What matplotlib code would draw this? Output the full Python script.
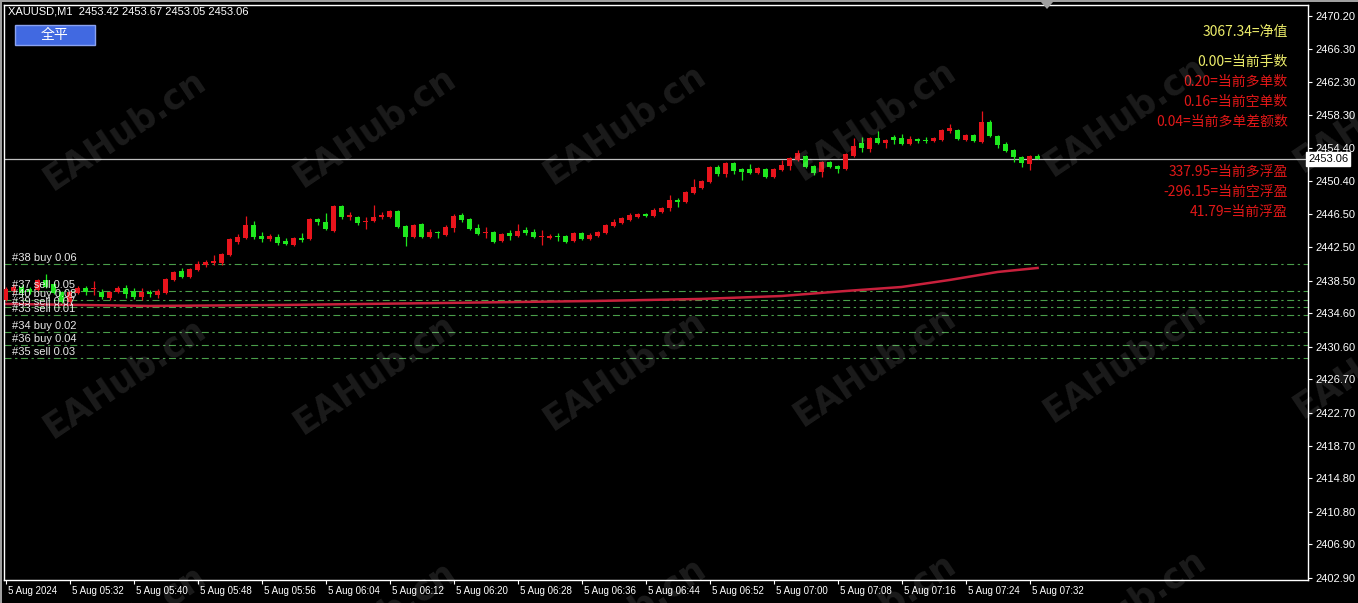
import matplotlib
matplotlib.use("Agg")
import matplotlib.pyplot as plt
import matplotlib.transforms as mtransforms
from matplotlib.patches import Rectangle, Polygon
import numpy as np

# ---------------- data ----------------
opens = [2436.19, 2437.26, 2437.74, 2437.50, 2437.38, 2438.58, 2438.10, 2437.14, 2435.95, 2437.02,
         2437.62, 2437.50, 2437.14, 2436.42, 2437.14, 2437.62, 2437.26, 2436.54, 2437.14, 2436.78,
         2437.02, 2438.58, 2439.66, 2438.95, 2439.78, 2440.38, 2440.62, 2440.62, 2441.58, 2443.14,
         2443.62, 2445.17, 2443.86, 2443.50, 2443.74, 2443.26, 2442.78, 2443.62, 2443.50, 2445.89,
         2445.53, 2444.46, 2447.45, 2446.13, 2446.13, 2445.53, 2445.65, 2446.13, 2446.13, 2446.85,
         2445.05, 2443.74, 2445.29, 2443.74, 2444.34, 2443.98, 2444.81, 2446.37, 2445.89, 2444.81,
         2444.22, 2444.34, 2443.26, 2444.22, 2443.86, 2444.57, 2444.34, 2443.74, 2443.62, 2443.86,
         2443.86, 2443.26, 2444.22, 2443.50, 2443.86, 2444.22, 2445.05, 2445.41, 2445.77, 2446.13,
         2446.49, 2446.25, 2446.73, 2447.21, 2448.17, 2447.93, 2449.01, 2449.60, 2450.32, 2452.12,
         2451.28, 2452.60, 2451.88, 2451.88, 2451.40, 2451.88, 2450.92, 2451.76, 2452.24, 2452.96,
         2453.44, 2452.24, 2451.52, 2452.72, 2452.24, 2451.88, 2453.44, 2454.99, 2454.28, 2455.59,
         2454.99, 2455.71, 2455.59, 2454.87, 2455.47, 2455.35, 2455.23, 2455.35, 2456.43, 2456.55,
         2455.35, 2455.95, 2455.11, 2457.50, 2455.83, 2454.87, 2454.16, 2453.32, 2452.48, 2453.42]
highs = [2437.74, 2438.10, 2437.98, 2437.74, 2438.71, 2439.31, 2438.34, 2437.26, 2437.26, 2437.86,
         2437.86, 2438.46, 2437.50, 2437.26, 2437.86, 2437.98, 2437.62, 2437.62, 2437.38, 2437.50,
         2438.83, 2439.66, 2440.02, 2440.02, 2440.86, 2440.98, 2441.58, 2441.82, 2443.62, 2444.10,
         2446.25, 2445.65, 2444.34, 2444.10, 2444.10, 2443.62, 2443.74, 2444.22, 2446.01, 2446.01,
         2446.61, 2447.57, 2447.57, 2446.73, 2446.25, 2446.13, 2447.57, 2446.73, 2446.97, 2446.97,
         2445.17, 2445.29, 2445.41, 2444.69, 2444.46, 2445.17, 2446.49, 2446.61, 2446.01, 2445.29,
         2444.93, 2444.46, 2444.22, 2444.57, 2445.29, 2444.93, 2444.69, 2444.57, 2444.10, 2444.22,
         2443.98, 2444.34, 2444.34, 2444.22, 2444.46, 2445.29, 2445.89, 2446.13, 2446.61, 2446.61,
         2446.61, 2447.21, 2447.33, 2448.77, 2448.41, 2449.24, 2450.68, 2450.56, 2452.24, 2452.36,
         2452.72, 2452.72, 2452.00, 2452.48, 2452.12, 2452.00, 2452.00, 2452.96, 2453.32, 2454.16,
         2453.56, 2452.36, 2452.84, 2452.84, 2452.36, 2453.80, 2455.59, 2455.71, 2455.71, 2456.43,
         2455.47, 2455.95, 2456.07, 2455.83, 2455.59, 2455.71, 2455.71, 2456.67, 2457.27, 2456.67,
         2456.07, 2456.07, 2458.82, 2457.74, 2455.95, 2455.11, 2454.28, 2453.44, 2453.56, 2453.67]
lows = [2436.07, 2437.02, 2436.66, 2436.90, 2437.26, 2437.62, 2436.90, 2435.83, 2435.83, 2436.90,
        2436.78, 2436.78, 2436.31, 2436.19, 2437.02, 2436.42, 2436.31, 2436.19, 2436.54, 2436.42,
        2436.90, 2438.46, 2438.83, 2438.83, 2439.66, 2440.14, 2440.38, 2440.38, 2441.46, 2442.90,
        2443.50, 2443.50, 2443.14, 2443.26, 2442.78, 2442.78, 2442.66, 2443.14, 2443.38, 2445.17,
        2444.57, 2444.34, 2445.89, 2445.77, 2445.17, 2444.69, 2445.53, 2445.89, 2446.01, 2444.81,
        2442.66, 2443.62, 2443.62, 2443.62, 2443.62, 2443.86, 2444.34, 2445.53, 2444.57, 2443.98,
        2443.62, 2443.02, 2443.14, 2443.38, 2443.74, 2443.98, 2443.62, 2442.78, 2443.50, 2443.26,
        2443.02, 2443.14, 2443.38, 2443.38, 2443.74, 2444.10, 2444.93, 2445.29, 2445.65, 2446.01,
        2446.13, 2446.13, 2446.61, 2446.85, 2447.33, 2447.81, 2448.88, 2449.48, 2450.20, 2451.04,
        2450.92, 2451.28, 2450.56, 2451.28, 2451.28, 2450.80, 2450.80, 2451.64, 2451.76, 2452.84,
        2452.00, 2451.16, 2450.92, 2452.00, 2451.40, 2451.76, 2453.32, 2453.92, 2453.92, 2454.87,
        2454.40, 2454.87, 2454.75, 2454.75, 2454.99, 2454.99, 2455.11, 2455.23, 2456.19, 2455.35,
        2455.23, 2455.11, 2454.99, 2455.71, 2454.40, 2453.92, 2452.72, 2452.12, 2451.76, 2453.05]
closes = [2437.50, 2437.74, 2437.02, 2437.14, 2438.58, 2437.74, 2437.02, 2435.95, 2437.14, 2437.62,
          2437.14, 2437.62, 2436.54, 2437.14, 2437.62, 2436.90, 2436.54, 2437.14, 2436.90, 2437.26,
          2438.71, 2439.54, 2438.95, 2439.90, 2440.50, 2440.74, 2440.86, 2441.70, 2443.50, 2443.74,
          2445.17, 2443.74, 2443.50, 2443.86, 2443.02, 2442.90, 2443.62, 2443.38, 2445.89, 2445.53,
          2444.69, 2447.45, 2446.13, 2446.37, 2445.41, 2445.65, 2446.13, 2446.37, 2446.85, 2444.93,
          2443.74, 2445.17, 2443.74, 2444.34, 2444.22, 2444.93, 2446.25, 2445.77, 2444.69, 2444.10,
          2444.34, 2443.14, 2444.10, 2443.86, 2444.46, 2444.22, 2443.74, 2443.86, 2443.86, 2443.74,
          2443.14, 2444.22, 2443.50, 2443.98, 2444.34, 2445.17, 2445.53, 2446.01, 2446.37, 2446.49,
          2446.25, 2446.97, 2447.21, 2448.17, 2447.93, 2449.12, 2449.72, 2450.44, 2452.12, 2451.28,
          2452.60, 2451.64, 2451.52, 2451.40, 2452.00, 2450.92, 2451.88, 2452.36, 2453.20, 2453.80,
          2452.12, 2451.40, 2452.72, 2452.12, 2451.88, 2453.68, 2454.63, 2454.40, 2455.59, 2454.99,
          2455.35, 2455.35, 2454.87, 2455.47, 2455.23, 2455.23, 2455.59, 2456.55, 2456.79, 2455.47,
          2455.95, 2455.23, 2457.50, 2455.83, 2454.75, 2454.04, 2453.32, 2452.60, 2453.44, 2453.06]

# moving-average line vertices (bar index, price)
ma_bars = [0, 18, 35, 55, 74, 87, 97, 105, 112, 118, 124, 129]
ma_vals = [2435.71, 2435.47, 2435.59, 2435.83, 2436.07, 2436.31, 2436.66, 2437.26, 2437.74, 2438.58, 2439.54, 2440.02]

# order lines
order_labels = ["#38 buy 0.06", "#37 sell 0.05", "#40 buy 0.08", "#39 sell 0.07",
                "#33 sell 0.01", "#34 buy 0.02", "#36 buy 0.04", "#35 sell 0.03"]
order_prices = [2440.55, 2437.26, 2436.19, 2435.29, 2434.38, 2432.35, 2430.79, 2429.23]

bid_price = 2453.06

time_tick_bars = list(range(0, 130, 8))
time_tick_labels = ["5 Aug 2024", "5 Aug 05:32", "5 Aug 05:40", "5 Aug 05:48", "5 Aug 05:56",
                    "5 Aug 06:04", "5 Aug 06:12", "5 Aug 06:20", "5 Aug 06:28", "5 Aug 06:36",
                    "5 Aug 06:44", "5 Aug 06:52", "5 Aug 07:00", "5 Aug 07:08", "5 Aug 07:16",
                    "5 Aug 07:24", "5 Aug 07:32"]
price_ticks = [2470.20, 2466.30, 2462.30, 2458.30, 2454.40, 2450.40, 2446.50, 2442.50, 2438.50,
               2434.60, 2430.60, 2426.70, 2422.70, 2418.70, 2414.80, 2410.80, 2406.90, 2402.90]

info_lines_top = ["3067.34=净值", "0.00=当前手数", "0.20=当前多单数", "0.16=当前空单数", "0.04=当前多单差额数"]
info_lines_bottom = ["337.95=当前多浮盈", "-296.15=当前空浮盈", "41.79=当前浮盈"]

header = "XAUUSD,M1  2453.42 2453.67 2453.05 2453.06"

# ---------------- style ----------------
W, H = 1358, 603
NARROW = ["Liberation Sans Narrow", "Liberation Sans", "DejaVu Sans"]
CJK = ["Noto Sans CJK SC", "DejaVu Sans"]
UP = "#e8141c"
DOWN = "#1ee81e"
YELLOW = "#ecec6a"
RED_TXT = "#e01818"

fig = plt.figure(figsize=(W / 100, H / 100), dpi=100, facecolor="black")
ax = fig.add_axes([4 / W, 1 - 580 / H, (1308 - 4) / W, (580 - 5) / H])
ax.set_facecolor("black")
ax.set_xlim(-0.19, 162.8)
ax.set_ylim(2402.64, 2471.52)
for s in ax.spines.values():
    s.set_color("white")
    s.set_linewidth(1)

x = np.arange(len(opens))
o = np.array(opens); c = np.array(closes); h = np.array(highs); l = np.array(lows)
cols = [UP if cc >= oo else DOWN for oo, cc in zip(o, c)]
ax.vlines(x, l, h, colors=cols, lw=0.9, zorder=3)
bottoms = np.minimum(o, c)
heights = np.maximum(np.abs(c - o), 0.12)
ax.bar(x, heights, bottom=bottoms, width=0.62, color=cols, linewidth=0, zorder=4)

# MA line
ax.plot(ma_bars, ma_vals, color="#c8203c", lw=1.8, zorder=2)

# order lines
blend = mtransforms.blended_transform_factory(ax.transAxes, ax.transData)
for lab, pr in zip(order_labels, order_prices):
    ax.axhline(pr, color="#4a9e4a", lw=0.8, dashes=(6.3, 3.2, 2.1, 3.2), zorder=1)
    ax.annotate(lab, xy=(0, pr), xycoords=blend, xytext=(5.5, 0.6), textcoords="offset points",
                ha="left", va="bottom", color="#e8e8e8", fontsize=8, family=NARROW, zorder=6)

# bid line
ax.axhline(bid_price, color="#c0c0c0", lw=0.9, zorder=2)
ax.text(1.0, bid_price, "%.2f" % bid_price, transform=blend, ha="left", va="center",
        fontsize=8, family=NARROW, color="black", zorder=10, clip_on=False,
        bbox=dict(boxstyle="square,pad=0.15", fc="white", ec="white"))

# axes ticks
ax.yaxis.tick_right()
ax.set_yticks(price_ticks)
ax.set_yticklabels(["%.2f" % v for v in price_ticks])
ax.tick_params(axis="y", colors="white", length=3, width=0.8, pad=2, labelsize=8)
ax.set_xticks(time_tick_bars)
ax.set_xticklabels(time_tick_labels)
ax.tick_params(axis="x", colors="white", length=3, width=0.8, pad=1.5, labelsize=7)
for lbl in ax.get_yticklabels() + ax.get_xticklabels():
    lbl.set_family(NARROW)
off = mtransforms.ScaledTranslation(2 / 100, 0, fig.dpi_scale_trans)
for lbl in ax.get_xticklabels():
    lbl.set_ha("left")
    lbl.set_transform(lbl.get_transform() + off)

# header and button
fig.text(8 / W, 1 - 12 / H, header, color="white", fontsize=8, family=NARROW, va="center", ha="left")
fig.patches.append(Rectangle((15 / W, 1 - 45 / H), 80 / W, 20 / H, transform=fig.transFigure,
                             facecolor="#4169e1", edgecolor="#8aa2f0", lw=1))
fig.text(55 / W, 1 - 35 / H, "全平", color="white", fontsize=10, family=CJK, ha="center", va="center")

# info text block
ys_top = [32, 62, 82, 102, 122]
for i, (t, yy) in enumerate(zip(info_lines_top, ys_top)):
    fig.text(1288 / W, 1 - yy / H, t, color=YELLOW if i < 2 else RED_TXT, fontsize=10,
             family=CJK, ha="right", va="center")
for t, yy in zip(info_lines_bottom, [172, 192, 212]):
    fig.text(1288 / W, 1 - yy / H, t, color=RED_TXT, fontsize=10, family=CJK, ha="right", va="center")

# frame decorations
fig.patches.append(Rectangle((0, 1 - 2 / H), 1, 2 / H, transform=fig.transFigure, facecolor="#a0a0a0", lw=0))
fig.patches.append(Rectangle((0, 0), 2 / W, 1, transform=fig.transFigure, facecolor="#a0a0a0", lw=0))
fig.patches.append(Polygon([(1041 / W, 1 - 2 / H), (1053 / W, 1 - 2 / H), (1047 / W, 1 - 9 / H)],
                           closed=True, transform=fig.transFigure, facecolor="#a0a0a0", lw=0))

# watermark
wm_centers = [(125, 130), (375, 127), (625, 124), (875, 120), (1125, 116), (1375, 112),
              (125, 378), (375, 374), (625, 370), (875, 366), (1125, 362), (1375, 358),
              (125, 625), (375, 621), (625, 617), (875, 613), (1125, 609)]
for cx, cy in wm_centers:
    fig.text(cx / W, 1 - cy / H, "EAHub.cn", color="white", alpha=0.11, fontsize=25,
             fontweight="bold", family="DejaVu Sans", rotation=34, ha="center", va="center",
             rotation_mode="anchor", zorder=20)

fig.savefig("out.png", dpi=100, facecolor="black")
